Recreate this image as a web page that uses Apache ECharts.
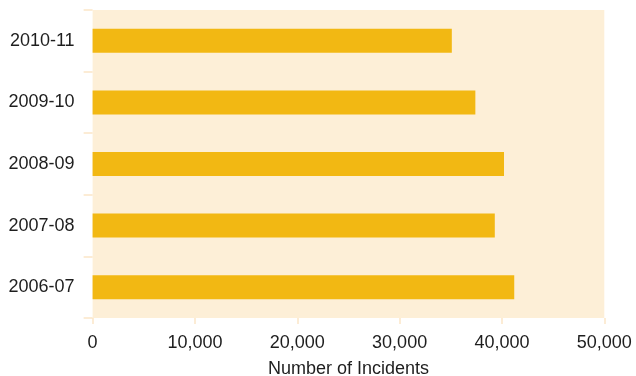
<!DOCTYPE html>
<html><head><meta charset="utf-8">
<script src="https://cdn.jsdelivr.net/npm/echarts@6/dist/echarts.min.js"></script>
<style>html,body{margin:0;padding:0;background:#fff}#c{width:636px;height:376px}</style>
</head><body><div id="c"></div>
<script>
const categories = ['2006-07', '2007-08', '2008-09', '2009-10', '2010-11'];
const incidents = [41200, 39300, 40200, 37400, 35100];
const xTicks = [0, 10000, 20000, 30000, 40000, 50000];

const chart = echarts.init(document.getElementById('c'), null, {renderer: 'canvas'});
const font = 'Liberation Sans, Helvetica, Arial, sans-serif';
chart.setOption({
  animation: false,
  grid: {left: 92.6, right: 31.7, top: 10, bottom: 58, show: true, backgroundColor: '#FDEFD7', borderWidth: 0,
    containLabel: false, outerBoundsMode: 'none'},
  xAxis: {
    type: 'value', min: xTicks[0], max: xTicks[xTicks.length - 1], interval: 10000,
    name: 'Number of Incidents', nameLocation: 'middle', nameGap: 42,
    nameTextStyle: {fontFamily: font, fontSize: 18, color: '#1e1e1e'},
    axisLine: {show: false},
    axisTick: {show: true, length: 6, lineStyle: {color: '#FCE6C8', width: 1.5}},
    splitLine: {show: false},
    axisLabel: {fontFamily: font, fontSize: 18, color: '#1e1e1e', margin: 16,
      formatter: v => v.toLocaleString('en-US')}
  },
  yAxis: {
    type: 'category', data: categories,
    axisLine: {show: false},
    axisTick: {show: true, length: 9, lineStyle: {color: '#FCE6C8', width: 1.5}},
    axisLabel: {fontFamily: font, fontSize: 18, color: '#1e1e1e', margin: 18}
  },
  series: [{
    type: 'bar', data: incidents, barWidth: '39%',
    itemStyle: {color: '#F2B813'}
  }]
});
</script></body></html>
